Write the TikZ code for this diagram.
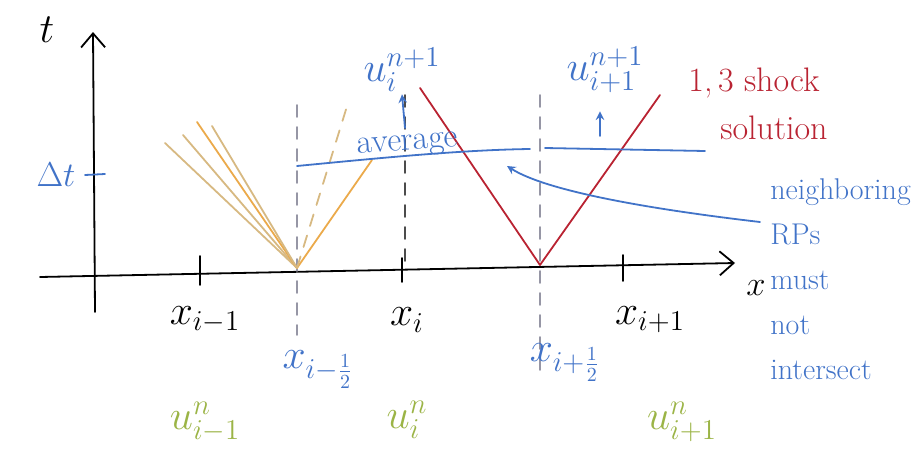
\documentclass[tikz,border=0pt]{standalone}
\usetikzlibrary{arrows.meta}
\definecolor{penblue}{RGB}{65,115,200}
\definecolor{penred}{RGB}{185,35,50}
\definecolor{pengreen}{RGB}{155,180,70}
\definecolor{penorange}{RGB}{235,170,75}
\definecolor{pentan}{RGB}{215,185,130}
\definecolor{pengray}{RGB}{150,150,165}

\begin{document}
\begin{tikzpicture}[x=0.5pt, y=-0.5pt, line cap=round,
    pen/.style={line width=0.9pt},
    lbl/.style={font=\fontsize{20}{22}\selectfont, inner sep=1pt},
    sublbl/.style={font=\fontsize{17}{19}\selectfont, inner sep=1pt},
    note/.style={font=\fontsize{15}{22.5}\selectfont, align=left, inner sep=0pt},
    cell/.style={pen, dashed, dash pattern=on 6pt off 5pt}]
    \useasboundingbox (0,0) rectangle (920,466);

    % Axes
    \draw[pen, ->, >={Straight Barb[length=7pt, width=12pt]}] (40,277) -- (735,263);
    \draw[pen, ->, >={Straight Barb[length=7pt, width=12pt]}] (95,312) -- (93,32);
    \node[lbl, font=\fontsize{18}{20}\selectfont] (xlab) at (756,288) {$x$};
    \node[lbl] (tlab) at (47,30) {$t$};

    % Ticks
    \draw[pen] (200,256) -- (200,285);
    \draw[pen] (402,258) -- (402,282);
    \draw[pen] (623,255) -- (623,281);
    \draw[pen, penblue] (85,175) -- (105,174);
    \node[lbl, penblue, font=\fontsize{17}{19}\selectfont] (dt) at (56,175) {$\Delta t$};

    % Cell interfaces
    \coordinate (fan) at (297,268);
    \coordinate (shock) at (540,265);
    \draw[cell, pengray] (297,105) -- (297,335);
    \draw[cell, black!70] (405,95) -- (405,270);
    \draw[cell, pengray] (540,95) -- (540,370);

    % Left Riemann problem (rarefaction)
    \draw[pen, pentan] (fan) -- (165,143);
    \draw[pen, pentan] (fan) -- (183,135);
    \draw[pen, penorange] (fan) -- (197,122);
    \draw[pen, pentan] (fan) -- (212,126);
    \draw[pen, penorange] (fan) -- (372,160);
    \draw[cell, pentan] (fan) -- (348,103);

    % Right Riemann problem (1,3 shocks)
    \draw[pen, penred] (shock) -- (420,88);
    \draw[pen, penred] (shock) -- (660,95);
    \node[note, penred, font=\fontsize{17}{24}\selectfont, anchor=north west] (shk) at (688,68)
        {1,\,3 shock\\\hspace{16pt}solution};

    % Average at Delta t
    \draw[pen, penblue] (297,166) .. controls (380,158) and (460,150) .. (530,149);
    \draw[pen, penblue] (545,148) -- (705,151);
    \node[sublbl, penblue, rotate=4] (avg) at (408,146) {average};

    % New cell values
    \node[lbl, penblue] (uin) at (402,70) {$u_i^{n+1}$};
    \node[lbl, penblue] (uipn) at (605,70) {$u_{i+1}^{n+1}$};
    \coordinate (avgi) at (405,128);
    \coordinate (avgip) at (600,136);
    \draw[pen, penblue, ->, >=stealth] (avgi) -- (uin.south);
    \draw[pen, penblue, ->, >=stealth] (avgip) -- ([yshift=-8pt]uipn.south -| avgip);

    % Grid points
    \node[lbl] (xim) at (205,320) {$x_{i-1}$};
    \node[lbl] (xi) at (407,320) {$x_i$};
    \node[lbl] (xip) at (650,320) {$x_{i+1}$};
    \node[lbl, penblue] (xmh) at (318,370) {$x_{i-\frac{1}{2}}$};
    \node[lbl, penblue] (xph) at (565,363) {$x_{i+\frac{1}{2}}$};

    % Old cell values
    \node[lbl, pengreen] (uim) at (205,422) {$u_{i-1}^n$};
    \node[lbl, pengreen] (ui) at (407,420) {$u_i^n$};
    \node[lbl, pengreen] (uip) at (682,422) {$u_{i+1}^n$};

    % Note
    \node[note, penblue, anchor=north west] (rps) at (770,178)
        {neighboring\\RPs\\must\\not\\intersect};
    \coordinate (avgtip) at (507,166);
    \draw[pen, penblue, ->, >=stealth] ([shift={(-5pt,-22pt)}]rps.north west)
        .. controls (640,208) and (545,190) .. (avgtip);
\end{tikzpicture}
\end{document}
